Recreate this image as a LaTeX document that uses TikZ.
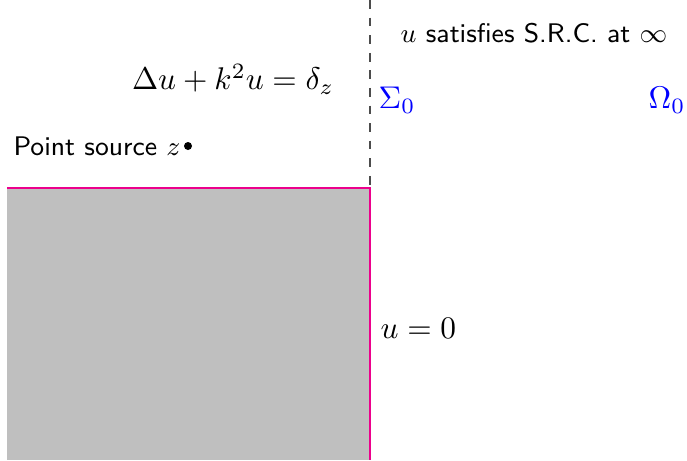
\documentclass[tikz,border=0pt]{standalone}
\usepackage{tikz}

\begin{document}
\begin{tikzpicture}[x=0.012cm,y=-0.012cm]
  \tikzset{lbl/.style={inner sep=0pt,scale=1.07},
    txt/.style={inner sep=0pt,scale=1.02,font=\sffamily\small}}
  \useasboundingbox (0,0) rectangle (687,460);

  \coordinate (TL) at (7,188);
  \coordinate (TR) at (370,188);
  \coordinate (BR) at (370,460);
  \coordinate (BL) at (7,460);
  \coordinate (TOP) at (370,0);

  \fill[black!25] (TL) -- (TR) -- (BR) -- (BL) -- cycle;
  \draw[magenta, line width=0.8pt] (TL) -- (TR) -- (BR);
  \draw[dashed, black!70] (TOP) -- (TR);

  \node[lbl] (eq) at (233,79) {$\Delta u+k^2u=\delta_z$};
  \node[lbl, text=blue] (S0) at (397,100) {$\Sigma_0$};
  \node[lbl, text=blue] (O0) at (667,100) {$\Omega_0$};
  \node[txt] (src) at (534,33) {$u$ satisfies S.R.C. at $\infty$};
  \node[txt, anchor=east] (pt) at (181,146) {Point source $z$};
  \fill[black] (188,146) circle (4);
  \node[lbl, anchor=west] (bc) at (380,328) {$u=0$};
\end{tikzpicture}
\end{document}
